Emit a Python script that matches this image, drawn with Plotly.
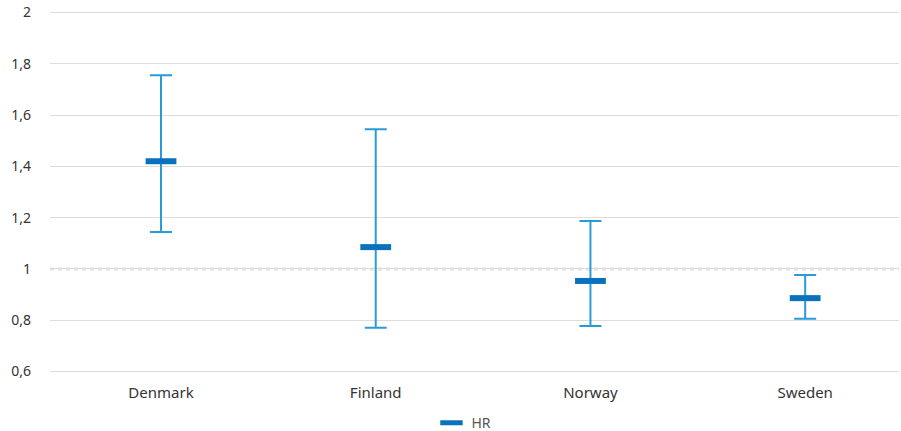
import plotly.graph_objects as go

countries = ["Denmark", "Finland", "Norway", "Sweden"]
hr = [1.42, 1.085, 0.953, 0.886]
ci_upper = [1.755, 1.545, 1.187, 0.976]
ci_lower = [1.144, 0.770, 0.777, 0.806]
y_ticks = [0.6, 0.8, 1.0, 1.2, 1.4, 1.6, 1.8, 2.0]
y_tick_text = ["0,6", "0,8", "1", "1,2", "1,4", "1,6", "1,8", "2"]
ref_value = 1.0

err_plus = [u - h for u, h in zip(ci_upper, hr)]
err_minus = [h - l for h, l in zip(hr, ci_lower)]

fig = go.Figure()
fig.add_trace(go.Scatter(
    x=countries, y=hr, mode="markers", name="HR",
    marker=dict(symbol="line-ew", size=22, color="#0a72bd",
                line=dict(width=6, color="#0a72bd")),
    error_y=dict(type="data", symmetric=False, array=err_plus, arrayminus=err_minus,
                 color="#2a9ad9", thickness=2, width=11),
))

fig.add_shape(type="line", xref="paper", x0=0, x1=1, yref="y", y0=ref_value, y1=ref_value,
              line=dict(color="#e0e0e0", width=3, dash="4px,4px"), layer="below")

fig.update_layout(
    width=901, height=431,
    margin=dict(l=50, r=2, t=10, b=57, autoexpand=False),
    paper_bgcolor="white", plot_bgcolor="white",
    font=dict(family="Noto Sans, Lato, sans-serif", size=14, color="#333333"),
    showlegend=True,
    legend=dict(orientation="h", x=0.4876, xanchor="center", yref="paper",
                y=-0.135, yanchor="middle",
                font=dict(size=14, color="#555555")),
    xaxis=dict(type="category", range=[-0.517, 3.437], showgrid=False, zeroline=False,
               showline=False, ticks="", tickfont=dict(size=15), ticklabelstandoff=8),
    yaxis=dict(range=[0.59, 2.01], tickvals=y_ticks, ticktext=y_tick_text,
               showgrid=True, gridcolor="#dcdcdc", gridwidth=1, zeroline=False,
               showline=False, ticks="", ticklabelstandoff=18, tickfont=dict(size=14),
               ticklabeloverflow="allow"),
)

fig.write_html("out.html", config={"displayModeBar": False},
               post_script="document.body.style.margin='0';")
